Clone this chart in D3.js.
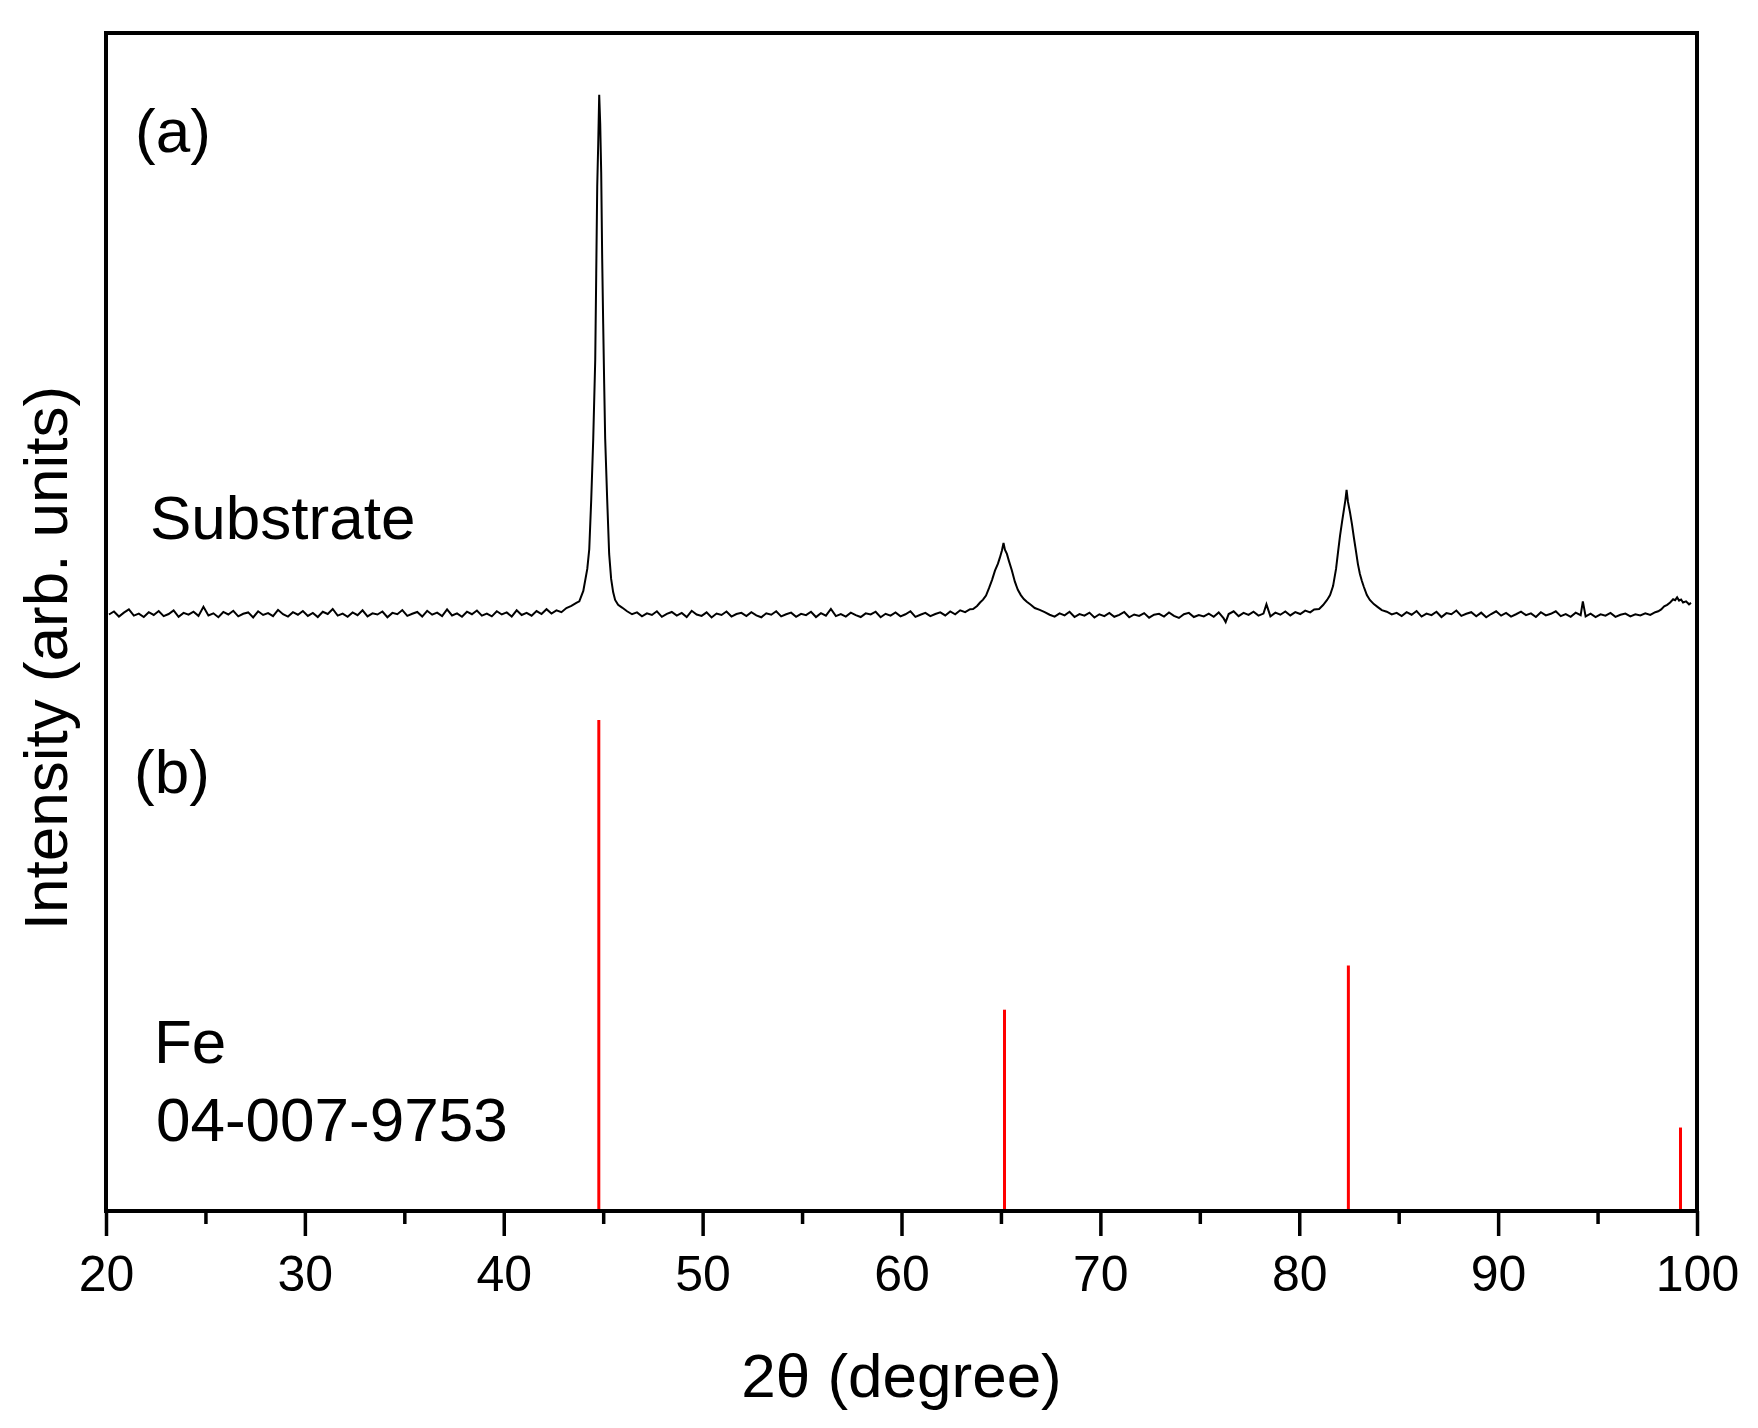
<!DOCTYPE html>
<html>
<head>
<meta charset="utf-8">
<script src="https://cdn.jsdelivr.net/npm/d3@7"></script>
<style>
  body { margin: 0; background: #fff; }
  text { font-family: "Liberation Sans", Arial, sans-serif; fill: #000; }
</style>
</head>
<body>
<div class="canvas"></div>
<script>
// x axis ticks
const xTicks = [20, 30, 40, 50, 60, 70, 80, 90, 100];
const xMinorTicks = [25, 35, 45, 55, 65, 75, 85, 95];

// substrate scan, [2theta, counts]
const substrateScan = [
  [20.15,148],[20.40,161],[20.65,139],[20.90,156],[21.15,170],[21.40,143],[21.65,152],[21.90,137],
  [22.15,158],[22.40,146],[22.65,163],[22.90,141],[23.15,150],[23.40,166],[23.65,138],[23.90,155],
  [24.15,147],[24.40,160],[24.65,142],[24.90,181],[25.15,144],[25.40,153],[25.65,136],[25.90,159],
  [26.15,148],[26.40,164],[26.65,140],[26.90,151],[27.15,157],[27.40,135],[27.65,162],[27.90,146],
  [28.15,154],[28.40,141],[28.65,168],[28.90,149],[29.15,139],[29.40,158],[29.65,147],[29.90,163],
  [30.15,142],[30.40,155],[30.65,137],[30.90,160],[31.15,150],[31.40,172],[31.65,143],[31.90,152],
  [32.15,138],[32.40,157],[32.65,145],[32.90,166],[33.15,140],[33.40,153],[33.65,148],[33.90,161],
  [34.15,136],[34.40,155],[34.65,149],[34.90,167],[35.15,142],[35.40,151],[35.65,159],[35.90,139],
  [36.15,164],[36.40,147],[36.65,156],[36.90,141],[37.15,170],[37.40,144],[37.65,153],[37.90,138],
  [38.15,160],[38.40,149],[38.65,165],[38.90,143],[39.15,152],[39.40,140],[39.65,162],[39.90,148],
  [40.15,157],[40.40,139],[40.65,166],[40.90,146],[41.15,155],[41.40,143],[41.65,163],[41.90,150],
  [42.15,171],[42.40,152],[42.65,166],[42.90,158],[43.15,176],[43.40,185],[43.65,198],
  // Fe (110)
  [43.80,205],[44.00,250],[44.20,345],[44.30,431],[44.40,648],[44.50,908],[44.60,1250],[44.65,1622],
  [44.70,2000],[44.75,2185],[44.80,2397],[44.85,2272],[44.90,2060],[44.95,1687],[45.00,1406],
  [45.05,1146],[45.10,908],[45.20,648],[45.30,410],[45.40,302],[45.50,245],[45.60,211],[45.75,190],
  [45.95,178],[46.20,162],[46.45,149],[46.70,157],[46.95,140],[47.20,153],[47.45,146],[47.70,162],
  [47.95,138],[48.20,151],[48.45,159],[48.70,143],[48.95,155],[49.20,137],[49.45,164],[49.70,148],
  [49.95,142],[50.20,157],[50.45,135],[50.70,152],[50.95,146],[51.20,161],[51.45,139],[51.70,150],
  [51.95,155],[52.20,141],[52.45,158],[52.70,144],[52.95,136],[53.20,153],[53.45,147],[53.70,162],
  [53.95,140],[54.20,149],[54.45,156],[54.70,138],[54.95,151],[55.20,145],[55.45,160],[55.70,137],
  [55.95,154],[56.20,143],[56.45,172],[56.70,141],[56.95,150],[57.20,139],[57.45,156],[57.70,145],
  [57.95,137],[58.20,153],[58.45,148],[58.70,160],[58.95,136],[59.20,151],[59.45,143],[59.70,157],
  [59.95,140],[60.20,149],[60.45,162],[60.70,138],[60.95,147],[61.20,155],[61.45,141],[61.70,150],
  [61.95,157],[62.20,144],[62.45,161],[62.70,149],[62.95,166],[63.20,158],[63.45,171],
  // Fe (200)
  [63.60,172],[63.80,185],[63.95,200],[64.10,212],[64.25,230],[64.40,262],[64.55,297],[64.70,338],
  [64.85,368],[64.95,395],[65.05,425],[65.13,457],[65.20,428],[65.30,410],[65.40,380],[65.55,338],
  [65.70,290],[65.85,255],[66.00,232],[66.15,215],[66.30,203],[66.50,190],[66.70,176],[66.95,168],
  [67.20,158],[67.45,147],[67.70,139],[67.95,153],[68.20,144],[68.45,160],[68.70,137],[68.95,150],
  [69.20,143],[69.45,156],[69.70,135],[69.95,149],[70.20,141],[70.45,155],[70.70,138],[70.95,146],
  [71.20,159],[71.45,136],[71.70,148],[71.95,142],[72.20,154],[72.45,134],[72.70,147],[72.95,151],
  [73.20,139],[73.45,157],[73.70,142],[73.95,133],[74.20,149],[74.45,155],[74.70,137],[74.95,146],
  [75.20,140],[75.45,152],[75.70,138],[75.95,157],[76.20,131],[76.30,115],[76.45,150],[76.70,162],
  [76.95,141],[77.20,155],[77.45,146],[77.70,160],[77.95,143],[78.20,152],[78.35,192],[78.55,140],
  [78.80,156],[79.05,147],[79.30,161],[79.55,144],[79.80,158],[80.05,150],[80.30,165],[80.55,157],
  [80.75,170],
  // Fe (211)
  [81.00,172],[81.20,189],[81.40,211],[81.55,232],[81.70,271],[81.85,345],[81.95,418],[82.05,488],
  [82.15,548],[82.25,604],[82.32,643],[82.38,687],[82.45,635],[82.55,591],[82.65,539],[82.75,479],
  [82.85,423],[82.95,366],[83.05,323],[83.15,293],[83.25,267],[83.40,232],[83.55,211],[83.75,193],
  [83.95,180],[84.15,167],
  [84.40,160],[84.65,148],[84.90,155],[85.15,141],[85.40,158],[85.65,147],[85.90,163],[86.15,139],
  [86.40,152],[86.65,145],[86.90,160],[87.15,137],[87.40,154],[87.65,149],[87.90,165],[88.15,142],
  [88.40,151],[88.65,158],[88.90,140],[89.15,156],[89.40,136],[89.65,150],[89.90,162],[90.15,143],
  [90.40,155],[90.65,139],[90.90,149],[91.15,160],[91.40,145],[91.65,153],[91.90,137],[92.15,158],
  [92.40,144],[92.65,151],[92.90,162],[93.15,141],[93.40,150],[93.65,138],[93.90,156],[94.15,145],
  [94.26,205],[94.40,140],[94.65,152],[94.90,137],[95.15,149],[95.40,143],[95.65,155],[95.90,138],
  [96.15,147],[96.40,152],[96.65,140],[96.90,149],[97.15,144],[97.40,153],[97.65,146],[97.90,158],
  // Fe (220)
  [98.05,162],[98.20,170],[98.35,183],[98.50,190],[98.65,200],[98.80,214],[98.90,210],[99.00,222],
  [99.10,208],[99.20,213],[99.30,200],[99.45,205],[99.60,192],[99.70,198]
];

// Fe reference card 04-007-9753
const refAngles = [44.78, 65.18, 82.47, 99.17];
const refIntensity = [100, 41, 50, 17];

const svgW = 1758, svgH = 1428;
const margin = { top: 33, left: 106, right: 61, bottom: 217 };
const width = svgW - margin.left - margin.right;
const height = svgH - margin.top - margin.bottom;

const svg = d3.select('.canvas')
  .append('svg')
  .attr('width', svgW)
  .attr('height', svgH);

const graph = svg.append('g')
  .attr('transform', `translate(${margin.left}, ${margin.top})`);

// scales
const x = d3.scaleLinear().domain([20, 100]).range([0, width]);
// upper panel: measured counts
const yScan = d3.scaleLinear().domain([0, 2400]).range([615.7, 61]);
// lower panel: reference intensities
const yRef = d3.scaleLinear().domain([0, 100]).range([height, 687]);

// reference sticks
graph.selectAll('line.ref')
  .data(refAngles)
  .enter()
  .append('line')
    .attr('class', 'ref')
    .attr('x1', d => x(d))
    .attr('x2', d => x(d))
    .attr('y1', yRef(0))
    .attr('y2', (d, i) => yRef(refIntensity[i]))
    .attr('stroke', '#ff0000')
    .attr('stroke-width', 3);

// scan line
const line = d3.line()
  .x(d => x(d[0]))
  .y(d => yScan(d[1]));

graph.append('path')
  .datum(substrateScan)
  .attr('d', line)
  .attr('fill', 'none')
  .attr('stroke', '#000')
  .attr('stroke-width', 2)
  .attr('stroke-linejoin', 'miter');

// x axis, major + minor ticks
const xAxis = d3.axisBottom(x)
  .tickValues(xTicks)
  .tickSize(25)
  .tickPadding(19)
  .tickFormat(d3.format('d'));

const xAxisGroup = graph.append('g')
  .attr('transform', `translate(0, ${height})`)
  .call(xAxis);
xAxisGroup.select('.domain').remove();
xAxisGroup.selectAll('line').attr('stroke', '#000').attr('stroke-width', 3.5);
xAxisGroup.selectAll('text')
  .attr('font-size', 50)
  .attr('font-family', '"Liberation Sans", Arial, sans-serif');

const minorGroup = graph.append('g')
  .attr('transform', `translate(0, ${height})`)
  .call(d3.axisBottom(x).tickValues(xMinorTicks).tickSize(13).tickFormat(''));
minorGroup.select('.domain').remove();
minorGroup.selectAll('line').attr('stroke', '#000').attr('stroke-width', 3.5);

// frame
graph.append('rect')
  .attr('width', width)
  .attr('height', height)
  .attr('fill', 'none')
  .attr('stroke', '#000')
  .attr('stroke-width', 4);

// axis titles
svg.append('text')
  .attr('x', margin.left + width / 2)
  .attr('y', 1397)
  .attr('text-anchor', 'middle')
  .attr('font-size', 62)
  .text('2\u03B8 (degree)');

svg.append('text')
  .attr('transform', 'translate(67, 658) rotate(-90)')
  .attr('text-anchor', 'middle')
  .attr('font-size', 62)
  .text('Intensity (arb. units)');

// panel annotations
const notes = [
  { t: '(a)', x: 135, y: 152 },
  { t: 'Substrate', x: 150, y: 539 },
  { t: '(b)', x: 134, y: 793 },
  { t: 'Fe', x: 154, y: 1063 },
  { t: '04-007-9753', x: 156, y: 1141 }
];
svg.selectAll('text.note')
  .data(notes)
  .enter()
  .append('text')
    .attr('class', 'note')
    .attr('x', d => d.x)
    .attr('y', d => d.y)
    .attr('font-size', 62)
    .text(d => d.t);
</script>
</body>
</html>
